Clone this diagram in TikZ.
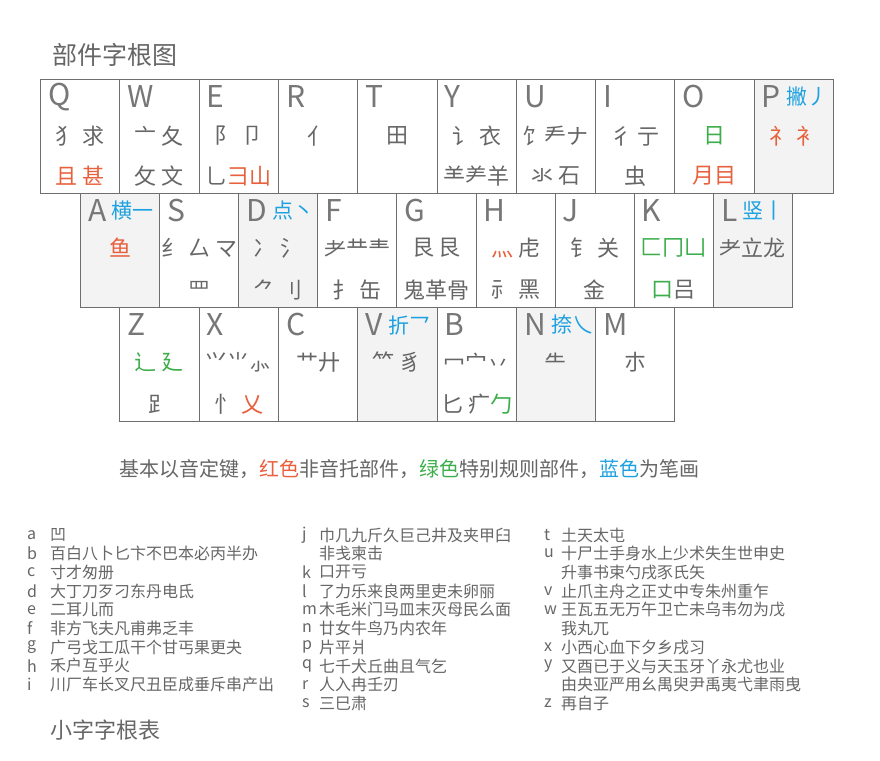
\documentclass[tikz,border=0pt]{standalone}
\usepackage{fontspec}
\setmainfont{Noto Sans CJK SC}
\definecolor{lettergray}{HTML}{777777}
\definecolor{linegray}{HTML}{6E6E6E}
\definecolor{textgray}{HTML}{666666}
\definecolor{keygray}{HTML}{F3F3F3}
\definecolor{radred}{HTML}{E8603C}
\definecolor{radgreen}{HTML}{3DAE4B}
\definecolor{radblue}{HTML}{1DA1E0}
\newcommand{\redpart}[1]{\textcolor{radred}{#1}}
\newcommand{\greenpart}[1]{\textcolor{radgreen}{#1}}
\newcommand{\bluepart}[1]{\textcolor{radblue}{#1}}
\tikzset{
	keybox/.style={draw=linegray,line width=1pt,minimum width=79.3pt,minimum height=114pt,anchor=north west,inner sep=0pt},
	keyletter/.style={font=\fontsize{30}{30}\selectfont,text=lettergray,inner sep=0pt,anchor=west},
	strokename/.style={font=\fontsize{21}{21}\selectfont,text=radblue,inner sep=0pt,anchor=west},
	radical/.style={font=\fontsize{22}{22}\selectfont,text=textgray,inner sep=0pt},
	listitem/.style={font=\fontsize{16}{16}\selectfont,text=textgray,inner sep=0pt,anchor=west},
	heading/.style={font=\fontsize{25}{25}\selectfont,text=textgray,inner sep=0pt,anchor=west}
}
\begin{document}
\begin{tikzpicture}[x=1pt,y=-1pt]
	\useasboundingbox[fill=white] (0,0) rectangle (880,760);
	\node[heading] (title) at (52,55) {部件字根图};
	% keys, row by row
	\foreach \k/\f/\s/\a/\b [count=\i from 0] in {
			Q/white/{}/{犭\ 求}/{\redpart{且\ 甚}},
			W/white/{}/{亠\ 夂}/{攵\ 文},
			E/white/{}/{阝\ 卩}/{乚\redpart{彐山}},
			R/white/{}/{亻}/{},
			T/white/{}/{田}/{},
			Y/white/{}/{讠\ 衣}/{⺷⺶羊},
			U/white/{}/{饣龵ナ}/{氺\ 石},
			I/white/{}/{彳\ 亍}/{虫},
			O/white/{}/{\greenpart{日}}/{\redpart{月目}},
			P/keygray/{撇丿}/{\redpart{礻\ 衤}}/{}}{
		\node[keybox,fill=\f] (key\k) at ({40+79.3*\i},79) {};
		\node[keyletter] (l\k) at ([xshift=8pt,yshift=-18pt]key\k.north west) {\k};
		\node[strokename] (s\k) at ([xshift=5pt]l\k.east) {\s};
		\node[radical] (a\k) at ([yshift=-57pt]key\k.north) {\a};
		\node[radical] (b\k) at ([yshift=-97pt]key\k.north) {\b};
	}
	\foreach \k/\f/\s/\a/\b [count=\i from 0] in {
			A/keygray/{横一}/{\redpart{鱼}}/{},
			S/white/{}/{纟\ 厶\ マ}/{罒},
			D/keygray/{点丶}/{冫\ 氵}/{⺈\ 刂},
			F/white/{}/{耂龷龶}/{扌\ 缶},
			G/white/{}/{艮\ 艮}/{鬼革骨},
			H/white/{}/{\redpart{灬}\ 虍}/{⺬\ 黑},
			J/white/{}/{钅\ 关}/{金},
			K/white/{}/{\greenpart{匚冂凵}}/{\greenpart{口}吕},
			L/keygray/{竖丨}/{⺹立龙}/{}}{
		\node[keybox,fill=\f] (key\k) at ({80+79.1*\i},193) {};
		\node[keyletter] (l\k) at ([xshift=8pt,yshift=-18pt]key\k.north west) {\k};
		\node[strokename] (s\k) at ([xshift=5pt]l\k.east) {\s};
		\node[radical] (a\k) at ([yshift=-55pt]key\k.north) {\a};
		\node[radical] (b\k) at ([yshift=-97pt]key\k.north) {\b};
	}
	\foreach \k/\f/\s/\a/\b [count=\i from 0] in {
			Z/white/{}/{\greenpart{辶\ 廴}}/{⻊},
			X/white/{}/{⺍⺌⺗}/{⺖\ \redpart{乂}},
			C/white/{}/{艹廾}/{},
			V/keygray/{折乛}/{⺮\ 豸}/{},
			B/white/{}/{冖宀丷}/{匕\ 疒\greenpart{勹}},
			N/keygray/{捺乀}/{⺧}/{},
			M/white/{}/{朩}/{}}{
		\node[keybox,fill=\f] (key\k) at ({119.3+79.3*\i},307) {};
		\node[keyletter] (l\k) at ([xshift=8pt,yshift=-18pt]key\k.north west) {\k};
		\node[strokename] (s\k) at ([xshift=5pt]l\k.east) {\s};
		\node[radical] (a\k) at ([yshift=-55pt]key\k.north) {\a};
		\node[radical] (b\k) at ([yshift=-97pt]key\k.north) {\b};
	}
	\node[font=\fontsize{20}{20}\selectfont,text=textgray,inner sep=0pt] (legend) at (409,469)
		{基本以音定键，\redpart{红色}非音托部件，\greenpart{绿色}特别规则部件，\bluepart{蓝色}为笔画};
	% small radicals
	\foreach \c/\t [count=\i from 0] in {a/凹,b/百白八卜匕卞不巴本必丙半办,c/寸才匆册,
			d/大丁刀歹刁东丹电氐,e/二耳儿而,f/非方飞夫凡甫弗乏丰,g/广弓戈工瓜干个甘丐果更夬,
			h/禾户互乎火,i/川厂车长叉尺丑臣成垂斥串产出}{
		\node[listitem] (ca\i) at (27,{535+18.7*\i}) {\c};
		\node[listitem] (ta\i) at (50,{535+18.7*\i}) {\t};
	}
	\foreach \c/\t [count=\i from 0] in {j/巾几九斤久巨己井及夹甲臼,{}/非戋柬击,k/口开亏,
			l/了力乐来良两里吏未卵丽,m/木毛米门马皿末灭母民么面,n/廿女牛鸟乃内农年,
			p/片平爿,q/七千犬丘曲且气乞,r/人入冉壬刃,s/三巳肃}{
		\node[listitem] (cb\i) at (302,{535+18.7*\i}) {\c};
		\node[listitem] (tb\i) at (319,{535+18.7*\i}) {\t};
	}
	\foreach \c/\t [count=\i from 0] in {t/土天太屯,u/十尸士手身水上少术失生世申史,{}/升事书束勺戌豕氏矢,
			v/止爪主舟之正丈中专朱州重乍,w/王瓦五无万午卫亡未乌韦勿为戊,{}/我丸兀,
			x/小西心血下夕乡戌习,y/又酉已于义与天玉牙丫永尤也业,{}/由央亚严用幺禺臾尹禹夷弋聿雨曳,z/再自子}{
		\node[listitem] (cc\i) at (544,{535+18.7*\i}) {\c};
		\node[listitem] (tc\i) at (561,{535+18.7*\i}) {\t};
	}
	\node[heading,font=\fontsize{22}{22}\selectfont] (subtitle) at (50,730) {小字字根表};
\end{tikzpicture}
\end{document}
